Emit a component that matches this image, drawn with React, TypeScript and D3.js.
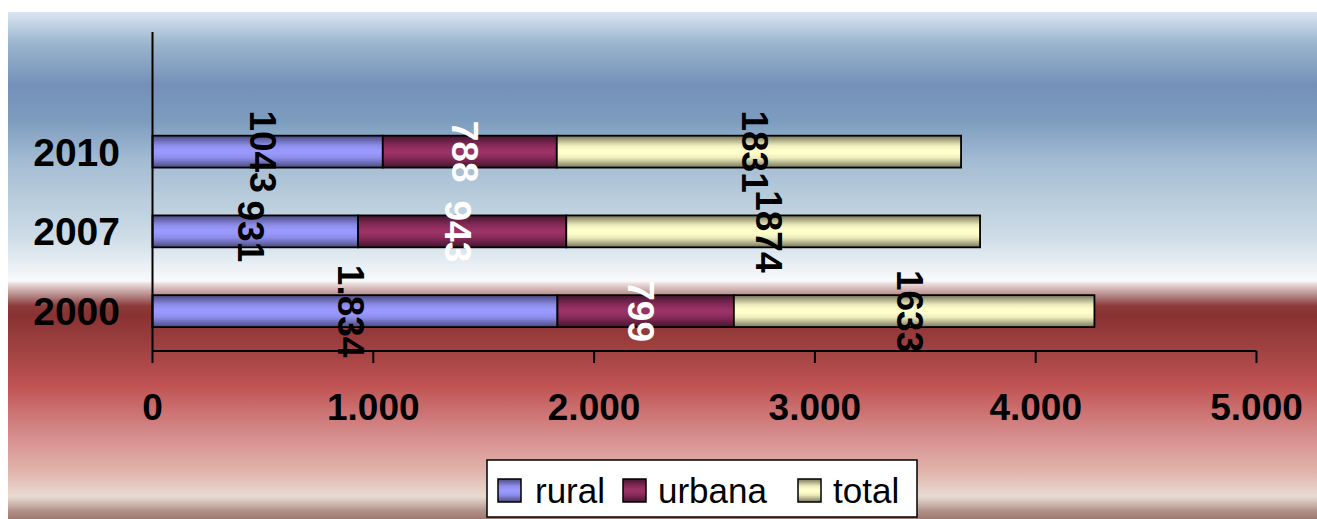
import React from "react";
import * as d3 from "d3";

const categories = ["2010", "2007", "2000"];
const rural = [1043, 931, 1834];
const urbana = [788, 943, 799];
const total = [1831, 1874, 1633];
const ruralLabels = ["1043", "931", "1.834"];
const urbanaLabels = ["788", "943", "799"];
const totalLabels = ["1831", "1874", "1633"];
const xTicks = [0, 1000, 2000, 3000, 4000, 5000];
const seriesNames = ["rural", "urbana", "total"];

const W = 1317;
const H = 519;
const FONT = "'Liberation Sans', Arial, sans-serif";

const bgStops: [number, string][] = [
  [12, "#dae6f2"], [22, "#c6d6e6"], [45, "#98b4cc"], [85, "#7590b8"], [120, "#7c9cbe"],
  [160, "#a3bbd2"], [200, "#b9cddc"], [235, "#cddbe6"], [260, "#e4ecf2"], [281, "#f9f9fb"],
  [284, "#e8dada"], [290, "#cfaeae"], [297, "#ae7c7c"], [306, "#8c3a3a"], [315, "#883232"],
  [350, "#a14242"], [385, "#c05252"], [412, "#cc7272"], [440, "#d89292"], [470, "#e0b2aa"],
  [496, "#e9dad2"], [501, "#d6c6be"], [506, "#c4aca4"], [511, "#b09088"], [519, "#9e7870"],
];

const barGrad: Record<string, string[]> = {
  rural: ["#4a4a80", "#8c8ce8", "#9999ff", "#9999ff", "#8c8ce8", "#4a4a80"],
  urbana: ["#45162e", "#862a58", "#993366", "#993366", "#862a58", "#45162e"],
  total: ["#77775c", "#ecebbc", "#ffffcc", "#ffffcc", "#ecebbc", "#77775c"],
};
const gradOffsets = [0, 0.3, 0.45, 0.55, 0.7, 1];
const labelColors: Record<string, string> = { rural: "#000", urbana: "#fff", total: "#000" };

export default function App() {
  const x = d3.scaleLinear().domain([0, 5000]).range([152.5, 1256.5]);
  const y = d3
    .scaleBand<string>()
    .domain(["", ...categories])
    .range([32, 351])
    .paddingInner(0.6)
    .paddingOuter(0.3);
  const rows = categories.map((c, i) => ({ cat: c, rural: rural[i], urbana: urbana[i], total: total[i] }));
  const stacked = d3.stack<any>().keys(seriesNames)(rows);
  const labels: Record<string, string[]> = { rural: ruralLabels, urbana: urbanaLabels, total: totalLabels };
  const fmt = d3.formatLocale({ decimal: ",", thousands: ".", grouping: [3], currency: ["", ""] }).format(",");
  const bgTop = 12;
  const bgH = H - bgTop;
  const axisY = 351;

  const legendItems = [
    { key: "rural", sx: 498, tx: 535 },
    { key: "urbana", sx: 623, tx: 658 },
    { key: "total", sx: 798, tx: 833 },
  ];

  return (
    <svg width={W} height={H} style={{ position: "absolute", left: 0, top: 0 }} fontFamily={FONT}>
      <defs>
        <linearGradient id="bg" x1="0" y1={bgTop} x2="0" y2={H} gradientUnits="userSpaceOnUse">
          {bgStops.map(([yy, c], i) => (
            <stop key={i} offset={(yy - bgTop) / bgH} stopColor={c} />
          ))}
        </linearGradient>
        {seriesNames.map((s) => (
          <linearGradient key={s} id={`g-${s}`} x1="0" y1="0" x2="0" y2="1">
            {barGrad[s].map((c, i) => (
              <stop key={i} offset={gradOffsets[i]} stopColor={c} />
            ))}
          </linearGradient>
        ))}
      </defs>
      <rect x={8} y={bgTop} width={W - 8} height={bgH} fill="url(#bg)" />

      {/* bars */}
      {stacked.map((layer) =>
        layer.map((d, i) => (
          <rect
            key={layer.key + i}
            x={x(d[0])}
            y={y(categories[i])!}
            width={x(d[1]) - x(d[0])}
            height={y.bandwidth()}
            fill={`url(#g-${layer.key})`}
            stroke="#000"
            strokeWidth={1.8}
          />
        ))
      )}

      {/* axes */}
      <line x1={x(0)} x2={x(0)} y1={32} y2={axisY} stroke="#000" strokeWidth={2} />
      <line x1={x(0)} x2={x(5000)} y1={axisY} y2={axisY} stroke="#000" strokeWidth={2} />
      {xTicks.map((t) => (
        <g key={t}>
          <line x1={x(t)} x2={x(t)} y1={axisY} y2={axisY + 12} stroke="#000" strokeWidth={2} />
          <text x={x(t)} y={420} textAnchor="middle" fontSize={37} fontWeight="bold" fill="#000">
            {fmt(t)}
          </text>
        </g>
      ))}
      {categories.map((c) => (
        <text
          key={c}
          x={120}
          y={y(c)! + y.bandwidth() / 2 + 14}
          textAnchor="end"
          fontSize={39}
          fontWeight="bold"
          fill="#000"
        >
          {c}
        </text>
      ))}

      {/* data labels */}
      {stacked.map((layer) =>
        layer.map((d, i) => {
          const cx = (x(d[0]) + x(d[1])) / 2 - 4;
          const cy = y(categories[i])! + y.bandwidth() / 2;
          return (
            <text
              key={"l" + layer.key + i}
              transform={`translate(${cx},${cy}) rotate(90)`}
              textAnchor="middle"
              dy="0.36em"
              fontSize={37}
              fontWeight="bold"
              fill={labelColors[layer.key]}
            >
              {labels[layer.key][i]}
            </text>
          );
        })
      )}

      {/* legend */}
      <rect x={487} y={460} width={430} height={57} fill="#fff" stroke="#000" strokeWidth={1.5} />
      {legendItems.map((it) => (
        <g key={it.key}>
          <rect x={it.sx} y={479} width={23} height={23} fill={`url(#g-${it.key})`} stroke="#000" strokeWidth={1.5} />
          <text x={it.tx} y={503} fontSize={35} fill="#000">
            {it.key}
          </text>
        </g>
      ))}
    </svg>
  );
}
